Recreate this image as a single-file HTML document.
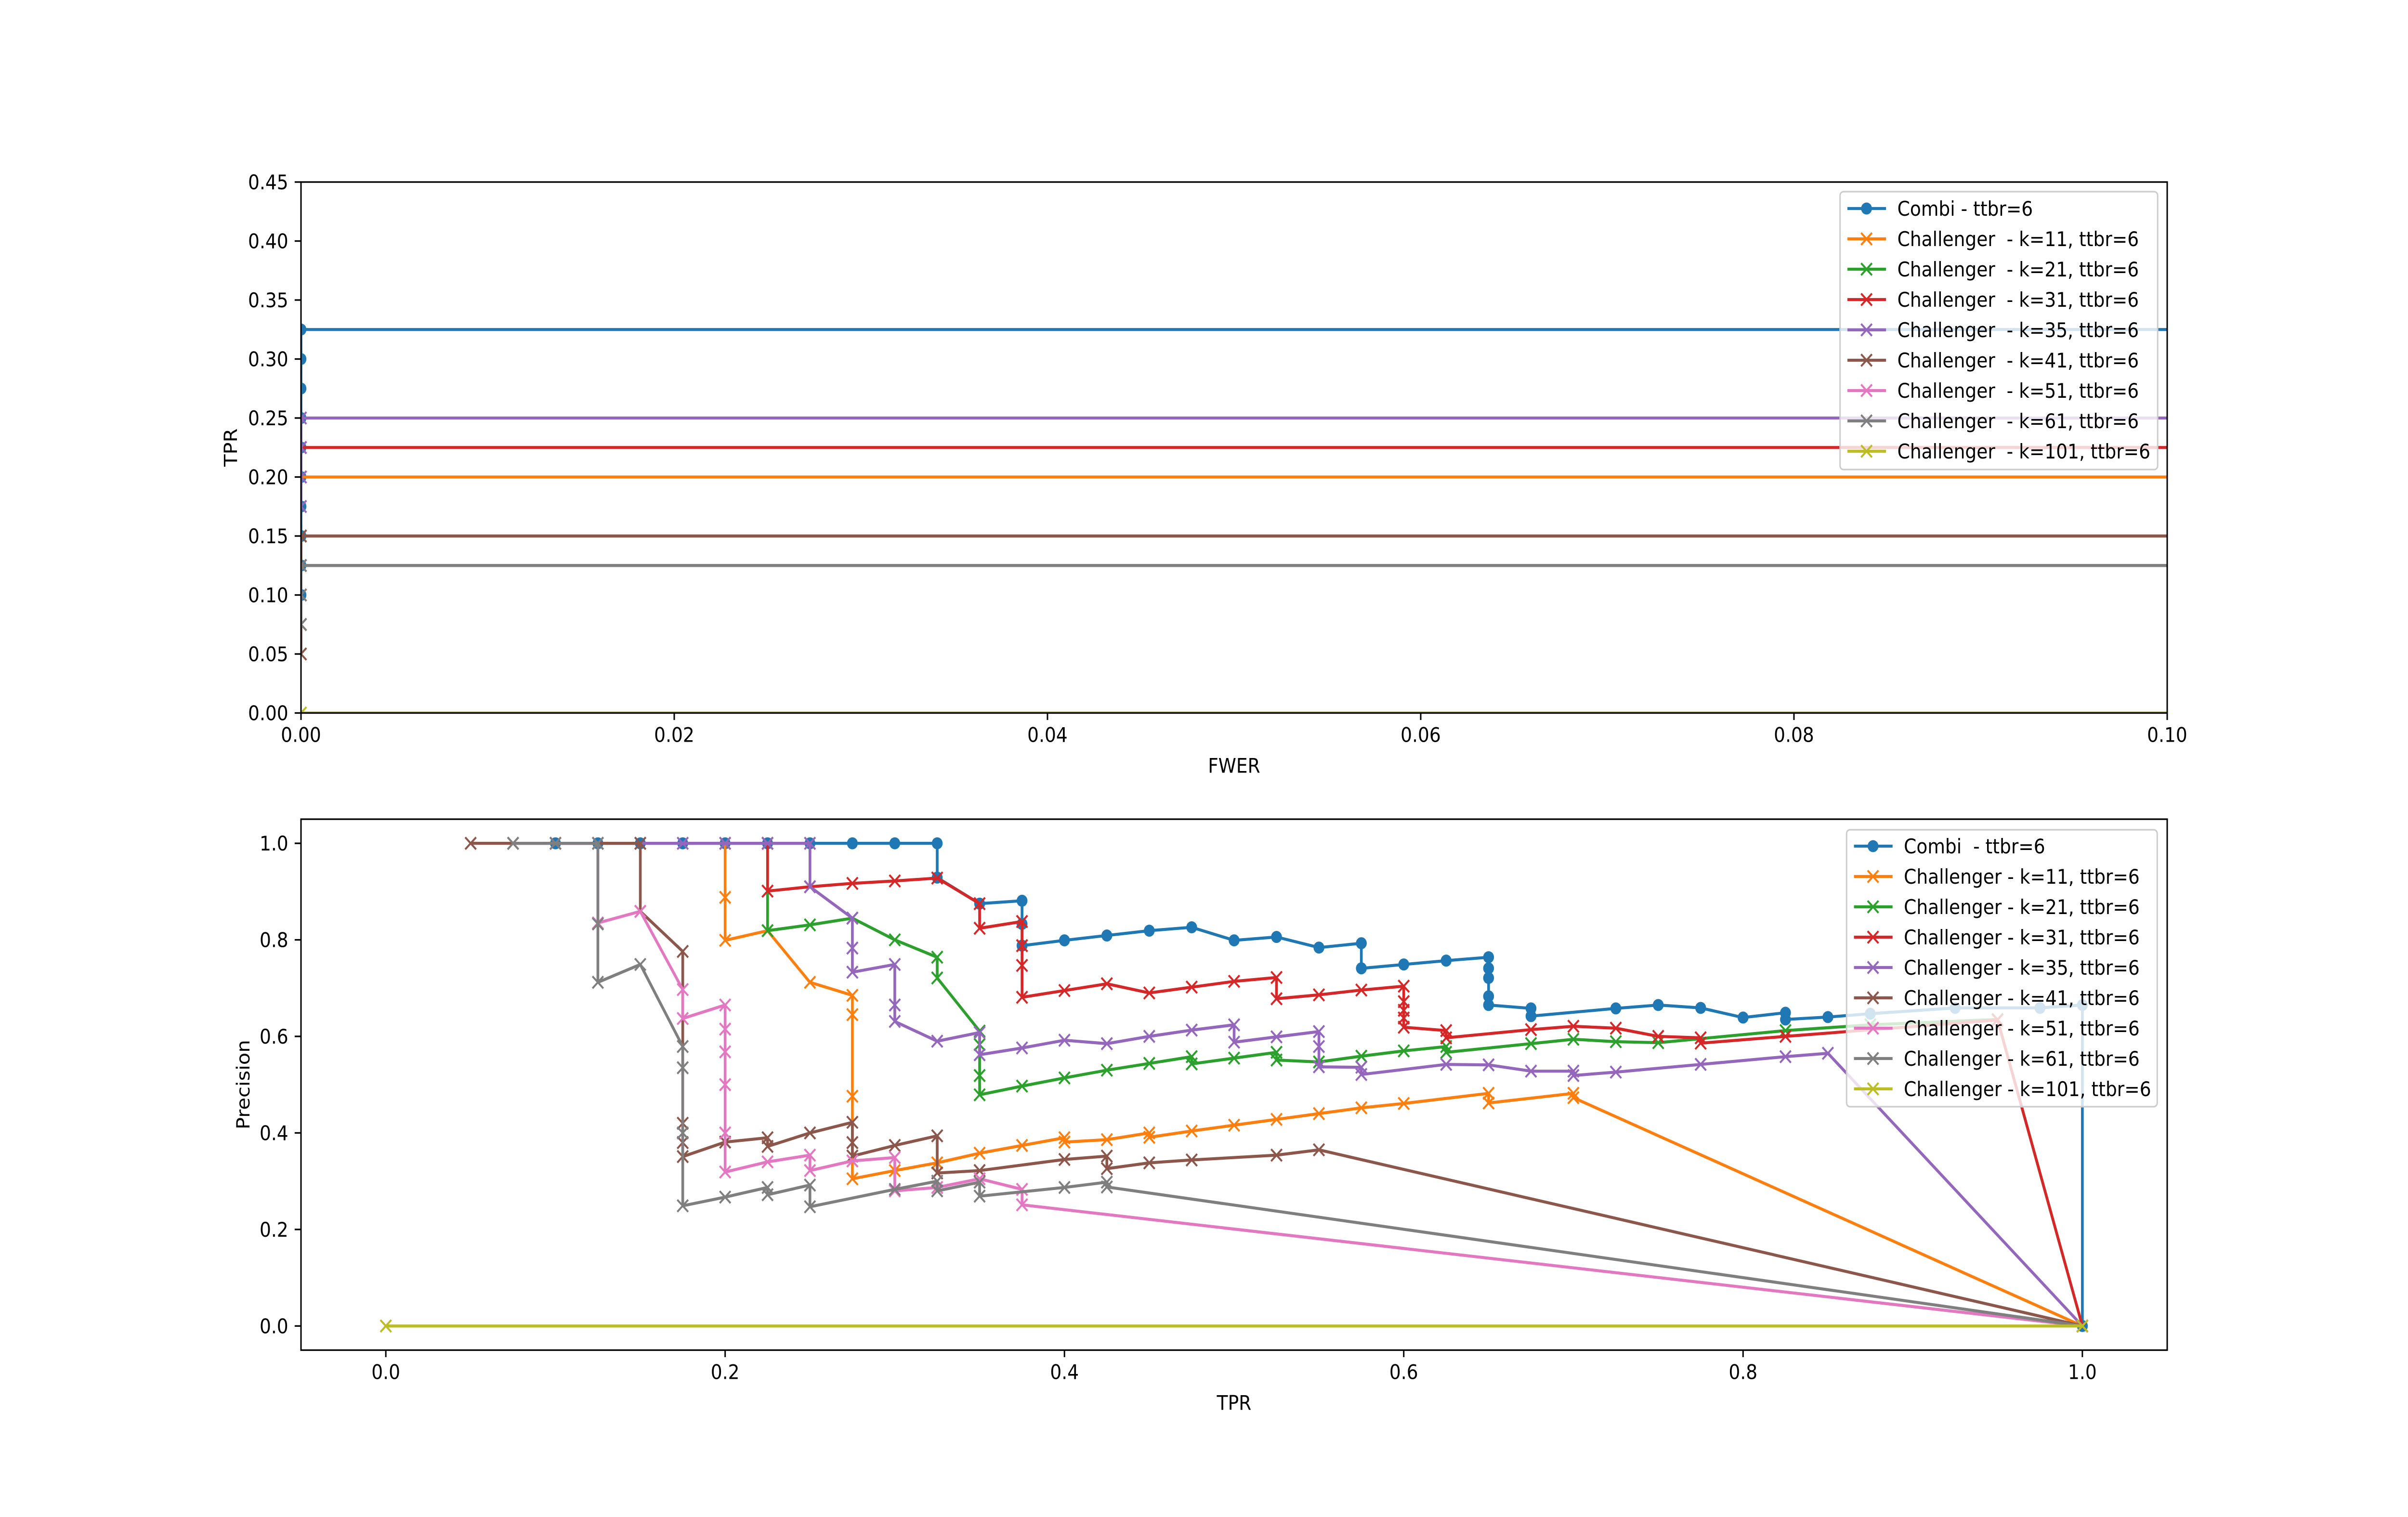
<!DOCTYPE html>
<html><head><meta charset="utf-8">
<style>
html,body{margin:0;padding:0;background:#fff;overflow:hidden;}
svg{display:block;position:absolute;left:0;top:0;width:100vw;height:100vh;font-family:"DejaVu Sans","Liberation Sans",sans-serif;overflow:hidden;}
text{white-space:pre;}
</style></head>
<body>
<svg id="fig" viewBox="0 0 5550 3150" preserveAspectRatio="none" xmlns="http://www.w3.org/2000/svg">
<rect width="5550" height="3150" fill="#fff"/>
<g id="top"></g>
<g id="bot"></g>
</svg>
<script>
// ---------- data: top chart (FWER vs TPR) ----------
const topNames = ["Combi - ttbr=6","Challenger  - k=11, ttbr=6","Challenger  - k=21, ttbr=6","Challenger  - k=31, ttbr=6","Challenger  - k=35, ttbr=6","Challenger  - k=41, ttbr=6","Challenger  - k=51, ttbr=6","Challenger  - k=61, ttbr=6","Challenger  - k=101, ttbr=6"];
const topCombiX = [0,0,0,0,0,0,0,0,0,0,1];
const topCombiY = [0.1,0.125,0.15,0.175,0.2,0.225,0.25,0.275,0.3,0.325,0.325];
const topK11X = [0,1];
const topK11Y = [0.2,0.2];
const topK21X = [0,1];
const topK21Y = [0.15,0.15];
const topK31X = [0,1];
const topK31Y = [0.225,0.225];
const topK35X = [0,0,0,0,1];
const topK35Y = [0.175,0.2,0.225,0.25,0.25];
const topK41X = [0,0,0,0,0,1];
const topK41Y = [0.05,0.075,0.1,0.125,0.15,0.15];
const topK51X = [0,1];
const topK51Y = [0.125,0.125];
const topK61X = [0,0,0,1];
const topK61Y = [0.075,0.1,0.125,0.125];
const topK101X = [0,1];
const topK101Y = [0,0];
const topXTicks = [0,0.02,0.04,0.06,0.08,0.10];
const topXTickLabels = ["0.00","0.02","0.04","0.06","0.08","0.10"];
const topYTicks = [0,0.05,0.1,0.15,0.2,0.25,0.3,0.35,0.4,0.45];
const topYTickLabels = ["0.00","0.05","0.10","0.15","0.20","0.25","0.30","0.35","0.40","0.45"];

// ---------- data: bottom chart (TPR vs Precision) ----------
const botNames = ["Combi  - ttbr=6","Challenger - k=11, ttbr=6","Challenger - k=21, ttbr=6","Challenger - k=31, ttbr=6","Challenger - k=35, ttbr=6","Challenger - k=41, ttbr=6","Challenger - k=51, ttbr=6","Challenger - k=61, ttbr=6","Challenger - k=101, ttbr=6"];
const botCombiX = [0.1,0.125,0.15,0.175,0.2,0.225,0.25,0.275,0.3,0.325,0.325,0.35,0.375,0.375,0.375,0.4,0.425,0.45,0.475,0.5,0.525,0.55,0.575,0.575,0.6,0.625,0.65,0.65,0.65,0.65,0.65,0.675,0.675,0.725,0.75,0.775,0.8,0.825,0.825,0.85,0.875,0.925,0.975,1.0,1.0];
const botCombiY = [1,1,1,1,1,1,1,1,1,1,0.929,0.875,0.881,0.833,0.788,0.799,0.809,0.819,0.826,0.799,0.806,0.784,0.793,0.741,0.749,0.757,0.764,0.741,0.721,0.683,0.665,0.658,0.642,0.658,0.665,0.659,0.639,0.649,0.635,0.64,0.647,0.659,0.659,0.665,0.0];
const botK11X = [0.2,0.2,0.2,0.225,0.25,0.275,0.275,0.275,0.275,0.3,0.325,0.35,0.375,0.4,0.4,0.425,0.45,0.45,0.475,0.5,0.525,0.55,0.575,0.6,0.65,0.65,0.7,0.7,1.0];
const botK11Y = [1,0.888,0.799,0.819,0.712,0.685,0.645,0.476,0.305,0.322,0.338,0.358,0.374,0.39,0.381,0.386,0.4,0.391,0.404,0.416,0.428,0.44,0.452,0.461,0.482,0.462,0.482,0.473,0];
const botK21X = [0.225,0.225,0.25,0.275,0.3,0.325,0.325,0.35,0.35,0.35,0.35,0.375,0.4,0.425,0.45,0.475,0.475,0.5,0.525,0.525,0.55,0.575,0.6,0.625,0.625,0.675,0.7,0.725,0.75,0.825,0.875,0.95,1.0];
const botK21Y = [1,0.819,0.831,0.845,0.8,0.764,0.721,0.611,0.583,0.519,0.479,0.497,0.514,0.53,0.544,0.558,0.543,0.555,0.567,0.551,0.547,0.559,0.57,0.579,0.567,0.585,0.594,0.589,0.587,0.612,0.624,0.635,0];
const botK31X = [0.225,0.225,0.25,0.275,0.3,0.325,0.35,0.35,0.375,0.375,0.375,0.375,0.4,0.425,0.45,0.475,0.5,0.525,0.525,0.55,0.575,0.6,0.6,0.6,0.6,0.6,0.625,0.625,0.675,0.7,0.725,0.75,0.775,0.775,0.825,0.95,1.0];
const botK31Y = [1,0.901,0.91,0.917,0.922,0.928,0.875,0.824,0.838,0.788,0.747,0.681,0.695,0.709,0.69,0.702,0.714,0.722,0.678,0.686,0.696,0.704,0.672,0.654,0.638,0.619,0.612,0.597,0.614,0.621,0.617,0.6,0.597,0.586,0.6,0.634,0];
const botK35X = [0.15,0.175,0.2,0.225,0.25,0.25,0.275,0.275,0.275,0.3,0.3,0.3,0.325,0.35,0.35,0.375,0.4,0.425,0.45,0.475,0.5,0.5,0.525,0.55,0.55,0.55,0.575,0.575,0.625,0.65,0.675,0.7,0.7,0.725,0.775,0.825,0.85,1.0];
const botK35Y = [1,1,1,1,1,0.91,0.845,0.783,0.733,0.749,0.665,0.631,0.59,0.608,0.562,0.576,0.592,0.585,0.6,0.613,0.624,0.588,0.599,0.61,0.579,0.537,0.536,0.521,0.542,0.541,0.528,0.528,0.519,0.526,0.542,0.558,0.565,0];
const botK41X = [0.05,0.075,0.1,0.125,0.15,0.15,0.175,0.175,0.175,0.175,0.2,0.225,0.225,0.25,0.275,0.275,0.275,0.3,0.325,0.325,0.35,0.4,0.425,0.425,0.45,0.475,0.525,0.55,1.0];
const botK41Y = [1,1,1,1,1,0.859,0.776,0.42,0.38,0.351,0.381,0.39,0.372,0.4,0.422,0.38,0.352,0.374,0.394,0.317,0.322,0.345,0.352,0.326,0.338,0.344,0.354,0.365,0];
const botK51X = [0.1,0.125,0.125,0.15,0.175,0.175,0.2,0.2,0.2,0.2,0.2,0.2,0.225,0.25,0.25,0.275,0.3,0.3,0.325,0.35,0.375,0.375,1.0];
const botK51Y = [1,1,0.835,0.859,0.697,0.637,0.665,0.615,0.568,0.5,0.4,0.319,0.34,0.354,0.322,0.342,0.349,0.28,0.287,0.305,0.283,0.251,0];
const botK61X = [0.075,0.1,0.125,0.125,0.125,0.15,0.175,0.175,0.175,0.175,0.2,0.225,0.225,0.25,0.25,0.3,0.325,0.325,0.35,0.35,0.4,0.425,0.425,1.0];
const botK61Y = [1,1,1,0.833,0.712,0.749,0.579,0.535,0.4,0.249,0.267,0.287,0.272,0.292,0.247,0.283,0.3,0.28,0.298,0.269,0.287,0.298,0.288,0];
const botK101X = [0,1];
const botK101Y = [0,0];
const botXTicks = [0,0.2,0.4,0.6,0.8,1.0];
const botXTickLabels = ["0.0","0.2","0.4","0.6","0.8","1.0"];
const botYTicks = [0,0.2,0.4,0.6,0.8,1.0];
const botYTickLabels = ["0.0","0.2","0.4","0.6","0.8","1.0"];

const colors = ["#1f77b4","#ff7f0e","#2ca02c","#d62728","#9467bd","#8c564b","#e377c2","#7f7f7f","#bcbd22"];
const NS = "http://www.w3.org/2000/svg";
function mk(tag, attrs, parent){ const e=document.createElementNS(NS,tag); for(const k in attrs) e.setAttribute(k,attrs[k]); parent.appendChild(e); return e; }

const LW=6.25, FS=41.7, TICK=14.6;

function drawAxes(g, box, xlim, ylim, xt, xtl, yt, ytl, xlabel, ylabel, series, names, legBox, key){
  const sx = v => box.l + (v - xlim[0])/(xlim[1]-xlim[0])*(box.r-box.l);
  const sy = v => box.b - (v - ylim[0])/(ylim[1]-ylim[0])*(box.b-box.t);
  const clipId = "clip-"+key;
  const defs = mk("defs",{},g);
  const cp = mk("clipPath",{id:clipId},defs);
  mk("rect",{x:box.l,y:box.t,width:box.r-box.l,height:box.b-box.t},cp);
  const plot = mk("g",{"clip-path":"url(#"+clipId+")"},g);
  
  
  series.forEach((s,i)=>{
    const sg = mk("g",{},plot);
    
    
    const pts = s.x.map((xv,j)=>sx(xv).toFixed(1)+","+sy(s.y[j]).toFixed(1)).join(" ");
    const pl = mk("polyline",{points:pts,fill:"none",stroke:colors[i],"stroke-width":LW,"stroke-linejoin":"round","stroke-linecap":"butt"},sg);
    
    
    s.x.forEach((xv,j)=>{
      if(xv < xlim[0] || xv > xlim[1]) return;
      const cx=sx(xv), cy=sy(s.y[j]);
      let m;
      if(i===0){
        m = mk("circle",{cx:cx,cy:cy,r:12.5,fill:colors[i]},sg);
      } else {
        m = mk("path",{d:`M${cx-12.5},${cy-12.5}L${cx+12.5},${cy+12.5}M${cx-12.5},${cy+12.5}L${cx+12.5},${cy-12.5}`,stroke:colors[i],"stroke-width":4.2,fill:"none"},sg);
      }
      
      
    });
  });
  const frame = mk("rect",{x:box.l,y:box.t,width:box.r-box.l,height:box.b-box.t,fill:"none",stroke:"#000","stroke-width":3.3},g);
  
  
  xt.forEach((v,i)=>{
    const x=sx(v);
    const t = mk("line",{x1:x,x2:x,y1:box.b,y2:box.b+TICK,stroke:"#000","stroke-width":3.3},g);
    
    
    const lb = mk("text",{x:x,y:box.b+TICK+14.6+31,"font-size":FS,"text-anchor":"middle",fill:"#000"},g);
    lb.textContent = xtl[i];
    
    
  });
  yt.forEach((v,i)=>{
    const y=sy(v);
    const t = mk("line",{x1:box.l-TICK,x2:box.l,y1:y,y2:y,stroke:"#000","stroke-width":3.3},g);
    
    
    const lb = mk("text",{x:box.l-TICK-14.6,y:y+15,"font-size":FS,"text-anchor":"end",fill:"#000"},g);
    lb.textContent = ytl[i];
    
    
  });
  const xl = mk("text",{x:(box.l+box.r)/2,y:box.b+TICK+14.6+31+16.7+47,"font-size":FS,"text-anchor":"middle",fill:"#000"},g);
  xl.textContent = xlabel;
  
  
  const ylx = ylabel==="TPR" ? 546 : 575;
  const yl = mk("text",{x:ylx,y:(box.t+box.b)/2,"font-size":FS,"text-anchor":"middle",fill:"#000",transform:`rotate(-90 ${ylx} ${(box.t+box.b)/2})`},g);
  yl.textContent = ylabel;
  
  
  const lg = mk("g",{},g);
  
  
  mk("rect",{x:legBox.l,y:legBox.t,width:legBox.r-legBox.l,height:legBox.b-legBox.t,rx:8,fill:"#fff","fill-opacity":0.8,stroke:"#cccccc","stroke-width":3.3},lg);
  names.forEach((n,i)=>{
    const cy = legBox.first + i*63;
    const e = mk("g",{},lg);
    
    
    mk("line",{x1:legBox.l+17,x2:legBox.l+106,y1:cy,y2:cy,stroke:colors[i],"stroke-width":LW},e);
    const cx = legBox.l+61;
    if(i===0) mk("circle",{cx:cx,cy:cy,r:12.5,fill:colors[i]},e);
    else mk("path",{d:`M${cx-12.5},${cy-12.5}L${cx+12.5},${cy+12.5}M${cx-12.5},${cy+12.5}L${cx+12.5},${cy-12.5}`,stroke:colors[i],"stroke-width":4.2},e);
    const t = mk("text",{x:legBox.l+132,y:cy+15,"font-size":FS,fill:"#000"},e);
    t.textContent = n;
  });
}

const topSeries = [
  {x:topCombiX,y:topCombiY},{x:topK11X,y:topK11Y},{x:topK21X,y:topK21Y},{x:topK31X,y:topK31Y},
  {x:topK35X,y:topK35Y},{x:topK41X,y:topK41Y},{x:topK51X,y:topK51Y},{x:topK61X,y:topK61Y},{x:topK101X,y:topK101Y}];
const botSeries = [
  {x:botCombiX,y:botCombiY},{x:botK11X,y:botK11Y},{x:botK21X,y:botK21Y},{x:botK31X,y:botK31Y},
  {x:botK35X,y:botK35Y},{x:botK41X,y:botK41Y},{x:botK51X,y:botK51Y},{x:botK61X,y:botK61Y},{x:botK101X,y:botK101Y}];

drawAxes(document.getElementById("top"),{l:693.75,r:4995,t:378,b:1480.5},[0,0.1],[0,0.45],
  topXTicks,topXTickLabels,topYTicks,topYTickLabels,"FWER","TPR",topSeries,topNames,
  {l:4241,r:4973,t:398,b:975,first:433},"top");
drawAxes(document.getElementById("bot"),{l:693.75,r:4995,t:1701,b:2803.5},[-0.05,1.05],[-0.05,1.05],
  botXTicks,botXTickLabels,botYTicks,botYTickLabels,"TPR","Precision",botSeries,botNames,
  {l:4256,r:4972,t:1723,b:2298,first:1757},"bot");
</script>
</body></html>
